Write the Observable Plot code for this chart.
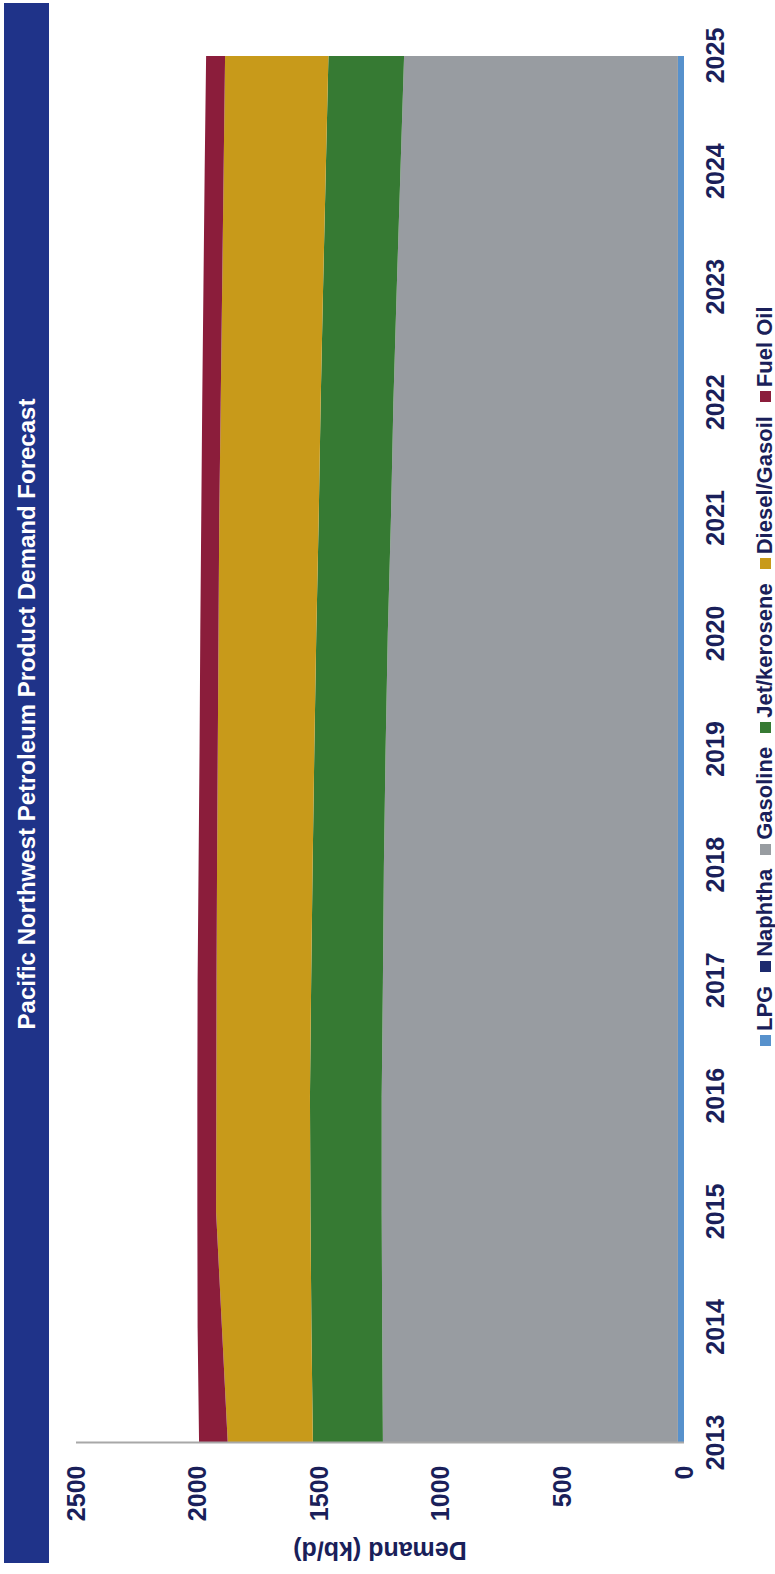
<!DOCTYPE html>
<html>
<head>
<meta charset="utf-8">
<script src="https://cdn.jsdelivr.net/npm/d3@7"></script>
<script src="https://cdn.jsdelivr.net/npm/@observablehq/plot@0.6"></script>
<style>
  html, body { margin: 0; padding: 0; background: #ffffff; }
  body { width: 775px; height: 1574px; overflow: hidden; position: relative; font-family: "Liberation Sans", Arial, sans-serif; }
  #land {
    position: absolute; left: 0; top: 0; width: 1574px; height: 775px;
    transform-origin: 0 0; transform: translate(0px, 1574px) rotate(-90deg);
    background: #ffffff;
  }
  #titlebar {
    position: absolute; left: 11px; top: 4px; width: 1560px; height: 45px;
    background: #1f3389;
  }
  #titlebar span {
    position: absolute; left: 849px; top: 50%; transform: translate(-50%, -50%);
    color: #ffffff; font-weight: bold; font-size: 24px; white-space: nowrap; line-height: 1;
  }
  #chart { position: absolute; left: 0; top: 55px; }
  #ylabel {
    position: absolute; left: 24px; top: 380px; transform: translate(-50%, -50%) rotate(-90deg);
    color: #1a1f5a; font-weight: bold; font-size: 25px; white-space: nowrap; line-height: 1;
  }
  #legend {
    position: absolute; left: 528px; top: 754px; height: 22px;
    display: flex; align-items: center; color: #1a1f5a; font-weight: bold; font-size: 22px; line-height: 22px;
  }
  .item { display: flex; align-items: center; margin-right: 14px; white-space: nowrap; }
  .sw { width: 11px; height: 11px; margin-right: 4px; }
</style>
</head>
<body>
<div id="land">
  <div id="titlebar"><span id="title"></span></div>
  <div id="chart"></div>
  <div id="ylabel"></div>
  <div id="legend"></div>
</div>
<script>
const titleText = "Pacific Northwest Petroleum Product Demand Forecast";
const yTitle = "Demand (kb/d)";
const years = [2013, 2014, 2015, 2016, 2017, 2018, 2019, 2020, 2021, 2022, 2023, 2024, 2025];
const products = ["LPG", "Naphtha", "Gasoline", "Jet/kerosene", "Diesel/Gasoil", "Fuel Oil"];
const colors = ["#5791cc", "#1c2a6e", "#989ca1", "#367a33", "#c89a1a", "#8b1d3b"];
const lpg = [25, 25, 25, 25, 25, 25, 25, 25, 25, 25, 25, 25, 25];
const naphtha = [0, 0, 0, 0, 0, 0, 0, 0, 0, 0, 0, 0, 0];
const gasoline = [1213, 1216, 1218, 1218, 1213, 1209, 1202, 1193, 1180, 1170, 1156, 1141, 1126];
const jet = [288, 291, 293, 295, 295, 293, 293, 294, 297, 299, 303, 307, 311];
const diesel = [350, 368, 388, 385, 389, 393, 397, 402, 409, 411, 415, 420, 425];
const fuelOil = [118, 100, 77, 78, 78, 76, 75, 75, 74, 76, 77, 78, 78];
const yTicks = [0, 500, 1000, 1500, 2000, 2500];

const series = [lpg, naphtha, gasoline, jet, diesel, fuelOil];
const table = [];
products.forEach((p, i) => years.forEach((y, j) => table.push({year: y, product: p, value: series[i][j]})));

document.getElementById("title").textContent = titleText;
document.getElementById("ylabel").textContent = yTitle;

const legend = document.getElementById("legend");
products.forEach((p, i) => {
  const it = document.createElement("div");
  it.className = "item";
  const sw = document.createElement("div");
  sw.className = "sw";
  sw.style.background = colors[i];
  const tx = document.createElement("span");
  tx.textContent = p;
  it.appendChild(sw); it.appendChild(tx);
  legend.appendChild(it);
});

const chart = Plot.plot({
  width: 1574,
  height: 685,
  marginTop: 21,
  marginBottom: 56,
  marginLeft: 131,
  marginRight: 56,
  style: {fontFamily: "'Liberation Sans', Arial, sans-serif", fontSize: "25px", fontWeight: "bold", color: "#1a1f5a", background: "transparent"},
  x: {type: "linear", domain: [2013, 2025], ticks: years, tickFormat: d => String(d), tickSize: 0, tickPadding: 22, label: null},
  y: {domain: [0, 2500], ticks: yTicks, tickFormat: d => String(d), tickSize: 0, tickPadding: 23, label: null},
  color: {domain: products, range: colors},
  marks: [
    Plot.areaY(table, {x: "year", y: "value", fill: "product", order: products, curve: "linear"}),
    Plot.ruleX([2013], {y1: 0, y2: 2500, stroke: "#a8a8a8", strokeWidth: 2})
  ]
});
document.getElementById("chart").appendChild(chart);
</script>
</body>
</html>
